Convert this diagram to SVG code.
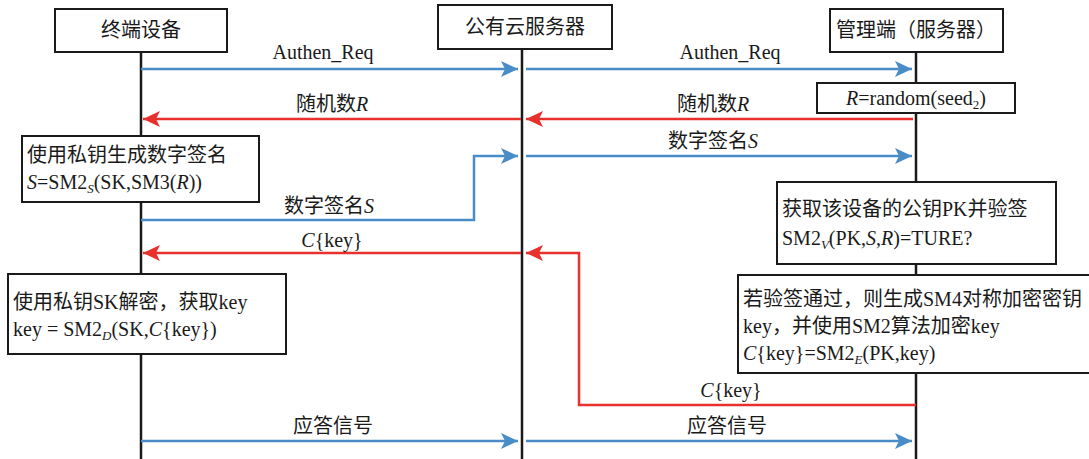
<svg xmlns="http://www.w3.org/2000/svg" width="1089" height="459" viewBox="0 0 1089 459">
<style>
text{font-family:"Liberation Serif","Noto Sans CJK SC",serif;font-size:20px;fill:#1a1a1a}
.c{text-anchor:middle}
.box{fill:#fff;stroke:#1a1a1a;stroke-width:2}
.life{stroke:#1a1a1a;stroke-width:2.5;fill:none}
.blue{stroke:#4a8cc8;stroke-width:2.5;fill:none}
.red{stroke:#e8302c;stroke-width:2.5;fill:none}
.i{font-style:italic}
.sub{font-size:13px}
</style>
<defs>
<marker id="ab" markerUnits="userSpaceOnUse" markerWidth="18" markerHeight="18" refX="17" refY="9" orient="auto"><path d="M0,1 L17,9 L0,17 L4,9 Z" fill="#4a8cc8"/></marker>
<marker id="ar" markerUnits="userSpaceOnUse" markerWidth="18" markerHeight="18" refX="17" refY="9" orient="auto"><path d="M0,1 L17,9 L0,17 L4,9 Z" fill="#e8302c"/></marker>
</defs>
<g id="lifelines">
<line class="life" x1="141" y1="52" x2="141" y2="459"/>
<line class="life" x1="522" y1="49" x2="522" y2="459"/>
<line class="life" x1="916" y1="52" x2="916" y2="459"/>
</g>
<g id="connectors">
<line class="blue" x1="141" y1="69" x2="518" y2="69" marker-end="url(#ab)"/>
<line class="blue" x1="526" y1="69" x2="912" y2="69" marker-end="url(#ab)"/>
<line class="red" x1="913" y1="119" x2="526" y2="119" marker-end="url(#ar)"/>
<line class="red" x1="521" y1="119" x2="143" y2="119" marker-end="url(#ar)"/>
<polyline class="blue" points="141,220 474,220 474,156 518,156" marker-end="url(#ab)"/>
<line class="blue" x1="526" y1="156" x2="912" y2="156" marker-end="url(#ab)"/>
<polyline class="red" points="916,405 579,405 579,253 526,253" marker-end="url(#ar)"/>
<line class="red" x1="521" y1="253" x2="143" y2="253" marker-end="url(#ar)"/>
<line class="blue" x1="141" y1="441" x2="518" y2="441" marker-end="url(#ab)"/>
<line class="blue" x1="526" y1="441" x2="912" y2="441" marker-end="url(#ab)"/>
<text class="c" x="323" y="59">Authen_Req</text>
<text class="c" x="730" y="59">Authen_Req</text>
<text class="c" x="332" y="111">随机数<tspan class="i">R</tspan></text>
<text class="c" x="713" y="111">随机数<tspan class="i">R</tspan></text>
<text class="c" x="713" y="148">数字签名<tspan class="i">S</tspan></text>
<text class="c" x="329" y="213">数字签名<tspan class="i">S</tspan></text>
<text class="c" x="332" y="247"><tspan class="i">C</tspan>{key}</text>
<text class="c" x="731" y="397"><tspan class="i">C</tspan>{key}</text>
<text class="c" x="333" y="433">应答信号</text>
<text class="c" x="727" y="433">应答信号</text>
</g>
<g id="n-terminal">
<rect class="box" x="55" y="9" width="172" height="43"/>
<text class="c" x="141" y="37">终端设备</text>
</g>
<g id="n-cloud">
<rect class="box" x="438" y="5" width="174" height="44"/>
<text class="c" x="525" y="34">公有云服务器</text>
</g>
<g id="n-manager">
<rect class="box" x="830" y="9" width="173" height="43"/>
<text class="c" x="916" y="37">管理端（服务器）</text>
</g>
<g id="n-random">
<rect class="box" x="817" y="83" width="198" height="30"/>
<text class="c" x="916" y="105"><tspan class="i">R</tspan>=random(seed<tspan class="sub" dy="4">2</tspan><tspan dy="-4">)</tspan></text>
</g>
<g id="n-sign">
<rect class="box" x="22" y="136" width="237" height="66"/>
<text x="27" y="162">使用私钥生成数字签名</text>
<text x="27" y="189"><tspan class="i">S</tspan>=SM2<tspan class="sub i" dy="4">S</tspan><tspan dy="-4">(SK,SM3(</tspan><tspan class="i">R</tspan>))</text>
</g>
<g id="n-verify">
<rect class="box" x="777" y="182" width="279" height="82"/>
<text x="782" y="216">获取该设备的公钥PK并验签</text>
<text x="782" y="245">SM2<tspan class="sub i" dy="4">V</tspan><tspan dy="-4">(PK,</tspan><tspan class="i">S</tspan>,<tspan class="i">R</tspan>)=TURE?</text>
</g>
<g id="n-decrypt">
<rect class="box" x="8" y="274" width="278" height="80"/>
<text x="13" y="309">使用私钥SK解密，获取key</text>
<text x="13" y="336">key = SM2<tspan class="sub i" dy="4">D</tspan><tspan dy="-4">(SK,</tspan><tspan class="i">C</tspan>{key})</text>
</g>
<g id="n-encrypt">
<rect class="box" x="738" y="275" width="360" height="98"/>
<text x="743" y="306">若验签通过，则生成SM4对称加密密钥</text>
<text x="743" y="333">key，并使用SM2算法加密key</text>
<text x="743" y="360"><tspan class="i">C</tspan>{key}=SM2<tspan class="sub i" dy="4">E</tspan><tspan dy="-4">(PK,key)</tspan></text>
</g>
</svg>
